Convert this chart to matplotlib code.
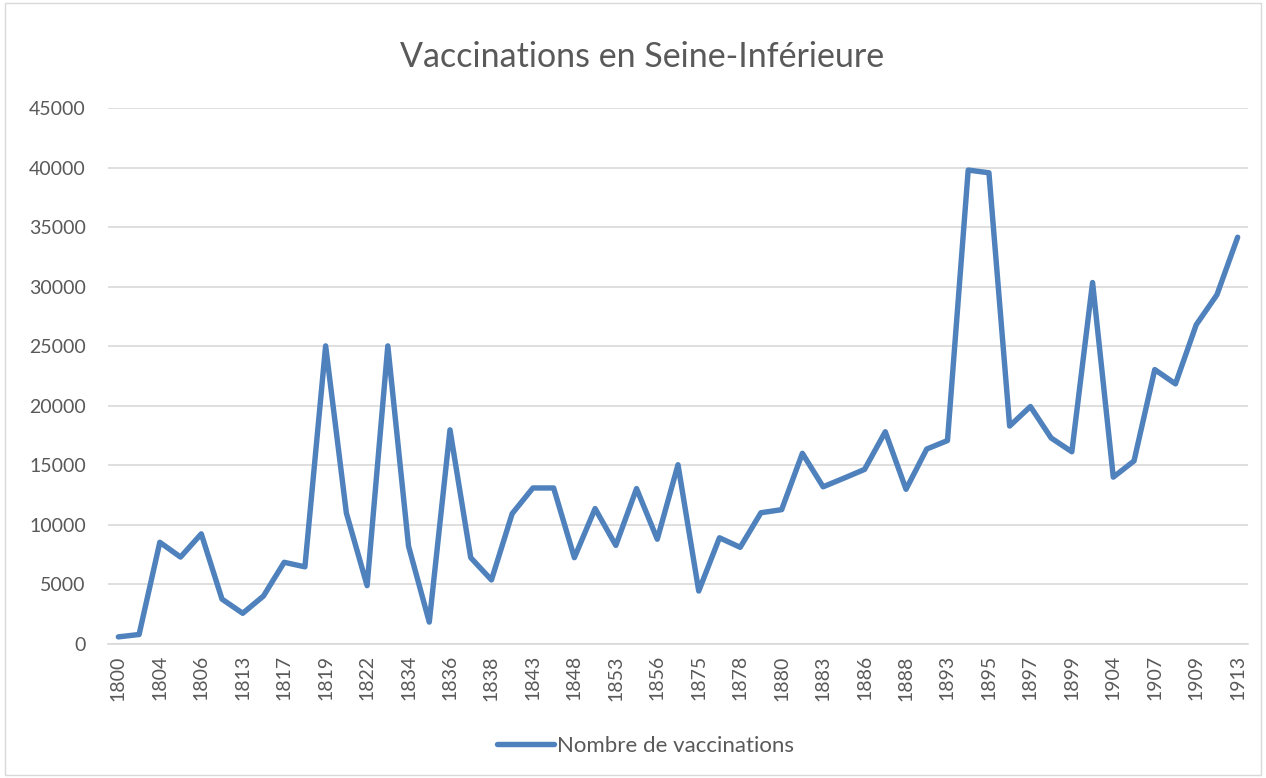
import matplotlib
matplotlib.use("Agg")
import matplotlib.pyplot as plt
from matplotlib.patches import Rectangle

# categories (every other year is labelled on the axis)
years = ['1800', '1802', '1804', '1805', '1806', '1810', '1813', '1815', '1817', '1818',
         '1819', '1820', '1822', '1823', '1834', '1835', '1836', '1837', '1838', '1840',
         '1843', '1845', '1848', '1850', '1853', '1855', '1856', '1857', '1875', '1876',
         '1878', '1879', '1880', '1881', '1883', '1884', '1886', '1887', '1888', '1890',
         '1893', '1894', '1895', '1896', '1897', '1898', '1899', '1900', '1904', '1905',
         '1907', '1908', '1909', '1911', '1913']
vaccinations = [600, 800, 8540, 7300, 9250, 3770, 2580, 4030, 6860, 6480,
                25030, 11000, 4900, 25030, 8220, 1840, 17980, 7250, 5380, 10950,
                13100, 13100, 7250, 11370, 8280, 13050, 8800, 15050, 4450, 8920,
                8120, 11020, 11280, 16010, 13200, 13920, 14660, 17820, 12990, 16370,
                17080, 39790, 39560, 18300, 19940, 17300, 16140, 30350, 14010, 15370,
                23040, 21840, 26800, 29320, 34150]
yticks = [0, 5000, 10000, 15000, 20000, 25000, 30000, 35000, 40000, 45000]

plt.rcParams['font.family'] = ['Lato', 'DejaVu Sans']
txt = '#595959'

fig = plt.figure(figsize=(12.66, 7.78), dpi=100)
fig.patches.append(Rectangle((0.004, 0.004), 0.992, 0.992, transform=fig.transFigure,
                             fill=False, edgecolor='#D9D9D9', lw=1))
ax = fig.add_axes([0.0853, 0.1722, 0.9005, 0.689])

x = list(range(len(years)))
ax.plot(x, vaccinations, color='#4F81BD', lw=3.9, solid_joinstyle='round',
        solid_capstyle='round', label='Nombre de vaccinations')

ax.set_xlim(-0.5, len(years) - 0.5)
ax.set_ylim(0, 45000)
ax.set_yticks(yticks)
ax.set_yticklabels([str(v) for v in yticks])
ax.set_xticks(x[::2])
ax.set_xticklabels(years[::2], rotation=90)
ax.tick_params(axis='both', length=0, labelsize=14, colors=txt)
ax.tick_params(axis='x', pad=8)
ax.tick_params(axis='y', pad=16)
ax.grid(axis='y', color='#D9D9D9', lw=1.2)
ax.set_axisbelow(True)
for s in ['top', 'right', 'left']:
    ax.spines[s].set_visible(False)
ax.spines['bottom'].set_color('#D9D9D9')
ax.spines['bottom'].set_linewidth(1.2)

fig.text(0.507, 0.927, 'Vaccinations en Seine-Inférieure', ha='center', va='center',
         fontsize=24.5, color=txt)
leg = fig.legend(loc='center', bbox_to_anchor=(0.5095, 0.041), frameon=False,
                 fontsize=16, handlelength=2.6, handletextpad=0.1)
for t in leg.get_texts():
    t.set_color(txt)

fig.savefig('out.png', dpi=100)
